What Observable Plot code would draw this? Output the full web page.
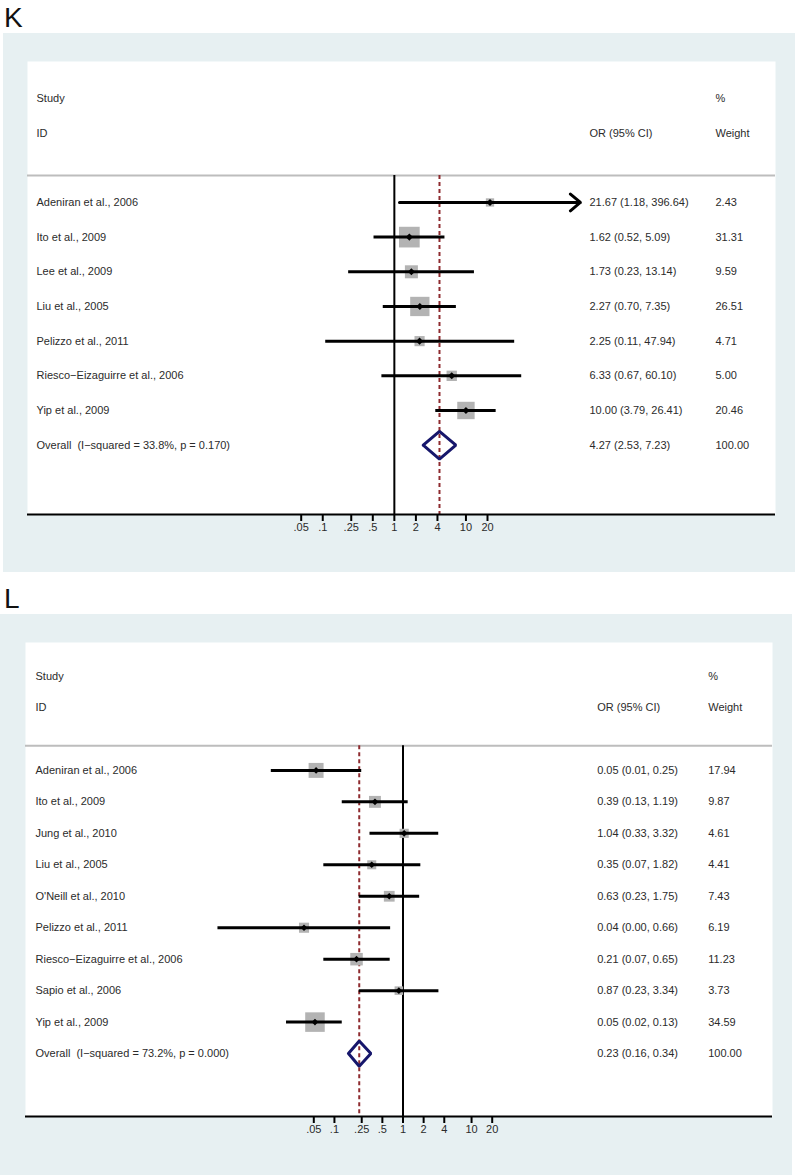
<!DOCTYPE html>
<html><head><meta charset="utf-8">
<script src="https://cdn.jsdelivr.net/npm/d3@7"></script>
<script src="https://cdn.jsdelivr.net/npm/@observablehq/plot@0.6"></script>
<style>
body{margin:0;background:#fff;width:795px;height:1175px;position:relative;overflow:hidden;font-family:"Liberation Sans",Arial,sans-serif;}
.letter{position:absolute;font-size:28px;line-height:28px;color:#111;}
.panel{position:absolute;line-height:0;}
</style></head><body>
<div class="letter" style="left:4px;top:4px">K</div>
<div class="panel" id="pk" style="left:3px;top:33px"></div>
<div class="letter" style="left:4px;top:585px">L</div>
<div class="panel" id="pl" style="left:0px;top:614px"></div>
<script>
// ---------- Panel K data ----------
const studiesK = ["Adeniran et al., 2006","Ito et al., 2009","Lee et al., 2009","Liu et al., 2005","Pelizzo et al., 2011","Riesco\u2212Eizaguirre et al., 2006","Yip et al., 2009"];
const orK = [21.67, 1.62, 1.73, 2.27, 2.25, 6.33, 10.00];
const loK = [1.18, 0.52, 0.23, 0.70, 0.11, 0.67, 3.79];
const hiK = [396.64, 5.09, 13.14, 7.35, 47.94, 60.10, 26.41];
const weightK = [2.43, 31.31, 9.59, 26.51, 4.71, 5.00, 20.46];
const overallLabelK = "Overall \u00a0(I\u2212squared = 33.8%, p = 0.170)";
const overallK = [4.27, 2.53, 7.23, 100.00]; // OR, lo, hi, weight

// ---------- Panel L data ----------
const studiesL = ["Adeniran et al., 2006","Ito et al., 2009","Jung et al., 2010","Liu et al., 2005","O'Neill et al., 2010","Pelizzo et al., 2011","Riesco\u2212Eizaguirre et al., 2006","Sapio et al., 2006","Yip et al., 2009"];
const orL = [0.054, 0.39, 1.04, 0.35, 0.63, 0.036, 0.21, 0.87, 0.052];
const loL = [0.012, 0.13, 0.33, 0.07, 0.23, 0.002, 0.07, 0.23, 0.02];
const hiL = [0.25, 1.19, 3.32, 1.82, 1.75, 0.66, 0.65, 3.34, 0.13];
const weightL = [17.94, 9.87, 4.61, 4.41, 7.43, 6.19, 11.23, 3.73, 34.59];
const overallLabelL = "Overall \u00a0(I\u2212squared = 73.2%, p = 0.000)";
const overallL = [0.23, 0.16, 0.34, 100.00];

// ---------- Shared axis / header text ----------
const tickValues = [0.05, 0.1, 0.25, 0.5, 1, 2, 4, 10, 20];
const tickLabels = [".05", ".1", ".25", ".5", "1", "2", "4", "10", "20"];
const headerStudy = ["Study", "ID"];
const headerOR = ["", "OR (95% CI)"];
const headerWeight = ["%", "Weight"];
const arrowCut = 100;

const BG = "#e7f0f2";
const fmt = v => v.toFixed(2);

function forest(cfg) {
  const n = cfg.studies.length;
  const rows = cfg.studies.map((s, i) => ({
    study: s, or: cfg.or[i], lo: cfg.lo[i], hi: cfg.hi[i], w: cfg.weight[i], row: i + 3
  }));
  rows.forEach(d => { d.ci = `${fmt(d.or)} (${fmt(d.lo)}, ${fmt(d.hi)})`; d.wt = fmt(d.w); });
  const ovRow = n + 3, axisRow = n + 5, sepRow = 2.22;
  const [oOr, oLo, oHi, oW] = cfg.overall;
  const ov = [{study: cfg.overallLabel, ci: `${fmt(oOr)} (${fmt(oLo)}, ${fmt(oHi)})`, wt: fmt(oW), row: ovRow}];
  const diamond = [
    {x: oLo, y: ovRow}, {x: oOr, y: ovRow - 0.4}, {x: oHi, y: ovRow},
    {x: oOr, y: ovRow + 0.4}, {x: oLo, y: ovRow}
  ];
  const headers = headerStudy.map((s, i) => ({s, or: headerOR[i], w: headerWeight[i], row: i}));
  const ticks = tickValues.map((v, i) => ({v, label: tickLabels[i]}));
  const lines = rows.filter(d => d.hi <= arrowCut);
  const arrows = rows.filter(d => d.hi > arrowCut);
  const textColor = "#2b2b2b";

  return Plot.plot({
    width: cfg.width, height: cfg.height,
    marginLeft: cfg.ml, marginRight: cfg.mr, marginTop: cfg.mt, marginBottom: cfg.mb,
    style: {background: BG, fontFamily: '"Liberation Sans", Arial, sans-serif', fontSize: "11px", color: textColor, overflow: "visible"},
    x: {type: "log", domain: [0.05, 20], range: cfg.xRange, axis: null},
    y: {domain: [-1.065, axisRow], reverse: true, axis: null},
    r: {type: "sqrt", domain: [0, 100], range: cfg.rRange},
    marks: [
      Plot.frame({fill: "white", stroke: "none"}),
      Plot.ruleY([sepRow], {stroke: "#bdbdbd", strokeWidth: 2}),
      Plot.ruleX([1], {y1: sepRow, y2: axisRow, stroke: "black", strokeWidth: 2}),
      Plot.ruleX([oOr], {y1: sepRow, y2: axisRow, stroke: "#8e2b2f", strokeWidth: 2, strokeDasharray: "4,3"}),
      Plot.dot(rows, {x: "or", y: "row", r: "w", symbol: "square", fill: "#b3b3b3", stroke: "none"}),
      Plot.ruleY(lines, {y: "row", x1: "lo", x2: "hi", stroke: "black", strokeWidth: 3}),
      Plot.arrow(arrows, {x1: "lo", x2: "hi", y1: "row", y2: "row", stroke: "black", strokeWidth: 3, headLength: 6.5, headAngle: 80}),
      Plot.dot(rows, {x: "or", y: "row", symbol: "diamond2", r: cfg.markR, fill: "black", stroke: "none"}),
      Plot.line(diamond, {x: "x", y: "y", stroke: "#16166b", strokeWidth: 3, strokeLinejoin: "miter"}),
      Plot.text(headers, {y: "row", text: "s", frameAnchor: "left", textAnchor: "start", dx: cfg.dxStudy, fill: textColor}),
      Plot.text(headers, {y: "row", text: "or", frameAnchor: "left", textAnchor: "start", dx: cfg.dxOR, fill: textColor}),
      Plot.text(headers, {y: "row", text: "w", frameAnchor: "left", textAnchor: "start", dx: cfg.dxW, fill: textColor}),
      Plot.text(rows.concat(ov), {y: "row", text: "study", frameAnchor: "left", textAnchor: "start", dx: cfg.dxStudy, fill: textColor}),
      Plot.text(rows.concat(ov), {y: "row", text: "ci", frameAnchor: "left", textAnchor: "start", dx: cfg.dxOR, fill: textColor}),
      Plot.text(rows.concat(ov), {y: "row", text: "wt", frameAnchor: "left", textAnchor: "start", dx: cfg.dxW, fill: textColor}),
      // x axis: baseline, tick marks and tick labels
      Plot.ruleY([axisRow], {stroke: "black", strokeWidth: 2}),
      Plot.ruleX(ticks, {x: "v", y1: axisRow, y2: axisRow, insetBottom: -7, stroke: "black", strokeWidth: 2}),
      Plot.text(ticks, {x: "v", text: "label", frameAnchor: "bottom", dy: 16, fill: textColor})
    ]
  });
}

document.getElementById("pk").append(forest({
  studies: studiesK, or: orK, lo: loK, hi: hiK, weight: weightK,
  overall: overallK, overallLabel: overallLabelK,
  width: 792, height: 539, ml: 24, mr: 20, mt: 28, mb: 58,
  xRange: [297.7, 484], rRange: [1.97, 19.3], markR: 3.2,
  dxStudy: 9, dxOR: 562, dxW: 688
}));

document.getElementById("pl").append(forest({
  studies: studiesL, or: orL, lo: loL, hi: hiL, weight: weightL,
  overall: overallL, overallLabel: overallLabelL,
  width: 792, height: 561, ml: 25, mr: 20, mt: 28, mb: 59,
  xRange: [313.3, 491.7], rRange: [1.79, 17.5], markR: 3,
  dxStudy: 10, dxOR: 571.7, dxW: 682.7
}));
</script>
</body></html>
